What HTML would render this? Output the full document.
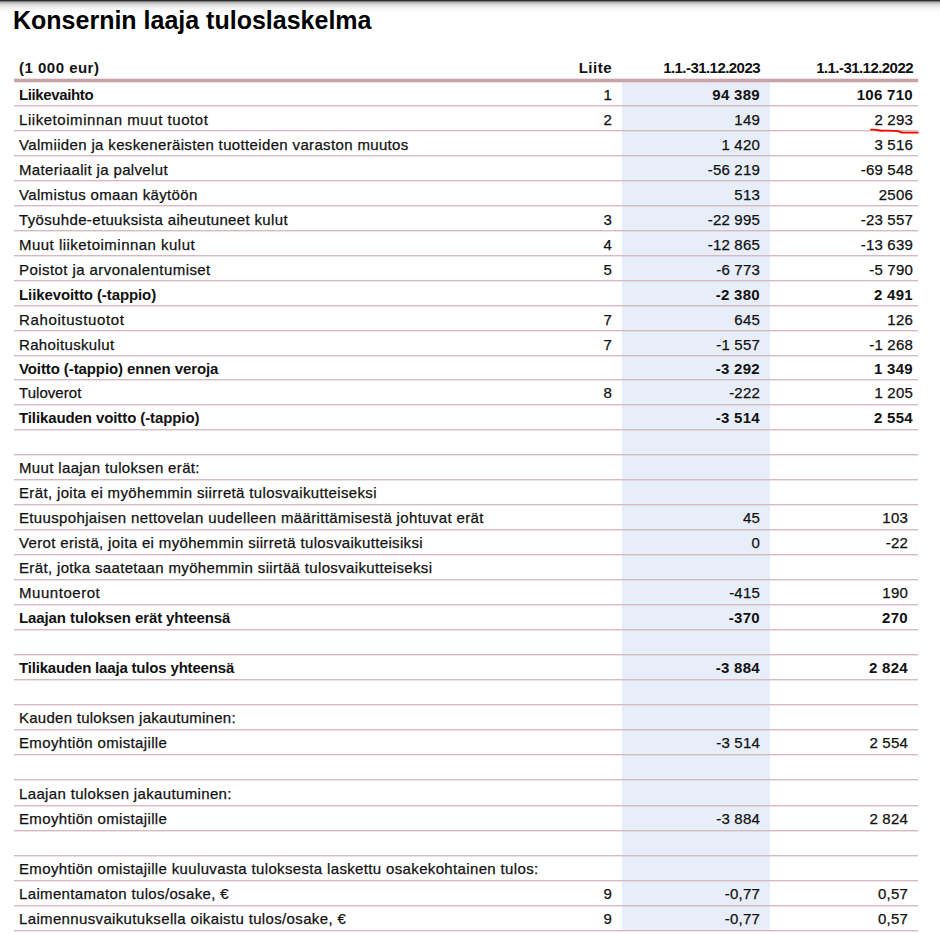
<!DOCTYPE html>
<html><head><meta charset="utf-8"><style>
*{margin:0;padding:0;box-sizing:border-box}
html,body{width:940px;height:934px;overflow:hidden;background:#fff}
body{position:relative;font-family:"Liberation Sans",sans-serif;color:#111;-webkit-text-stroke:0.25px #111}
.sh{position:absolute;left:0;top:0;width:940px;height:13px;background:linear-gradient(to bottom,#282c30 0px 1px,#7d7e80 1px 2px,#b3b3b3 2px 3px,#cbcbcb 3px 4px,#d9d9d9 4px 5px,#e3e3e3 5px 6px,#eaeaea 6px 7px,#f0f0f0 7px 8px,#f4f4f4 8px 9px,#f8f8f8 9px 10px,#fafafa 10px 11px,#fcfcfc 11px 12px,#fefefe 12px 13px)}
h1{position:absolute;left:13px;-webkit-text-stroke:0;top:4px;font-size:25px;font-weight:700;line-height:32px;white-space:nowrap;color:#000}
.blue{position:absolute;left:622px;top:82px;width:148px;height:849px;background:#e7eefa}
.thick{position:absolute;left:14px;top:79px;width:904px;height:3px;background:#c9a3a7;box-shadow:0 1px 0 rgba(201,163,167,0.3),0 -1px 0 rgba(201,163,167,0.3)}
.ln{position:absolute;left:14px;width:904px;height:1px;background:#d7babe;box-shadow:0 1px 0 rgba(215,186,190,0.4)}
.t{position:absolute;height:25px;line-height:25px;font-size:15px;white-space:nowrap}
.l{left:19px;letter-spacing:0.35px}
.r{text-align:right;letter-spacing:0.2px}
.n{width:100px}
.b{font-weight:700;letter-spacing:-0.1px;-webkit-text-stroke:0}
.r.b{letter-spacing:0.3px}
.hd{font-weight:700;-webkit-text-stroke:0}
</style></head><body>
<div class="sh"></div>
<h1>Konsernin laaja tuloslaskelma</h1>
<div class="blue"></div>
<div class="thick"></div>
<div class="t l hd" style="top:55px;letter-spacing:0.49px">(1 000 eur)</div>
<div class="t r hd n" style="top:55px;left:512px;letter-spacing:0.5px">Liite</div>
<div class="t r hd n" style="top:55px;left:660px;letter-spacing:-0.55px">1.1.-31.12.2023</div>
<div class="t r hd n" style="top:55px;left:813px;letter-spacing:-0.55px">1.1.-31.12.2022</div>
<div class="ln" style="top:105px"></div>
<div class="t l b" style="top:82px;letter-spacing:-0.380px">Liikevaihto</div>
<div class="t r n" style="top:82px;left:512px">1</div>
<div class="t r n b" style="top:82px;left:660px">94 389</div>
<div class="t r n b" style="top:82px;left:813px">106 710</div>
<div class="ln" style="top:130px"></div>
<div class="t l" style="top:107px;letter-spacing:0.550px">Liiketoiminnan muut tuotot</div>
<div class="t r n" style="top:107px;left:512px">2</div>
<div class="t r n" style="top:107px;left:660px">149</div>
<div class="t r n" style="top:107px;left:813px">2 293</div>
<div class="ln" style="top:155px"></div>
<div class="t l" style="top:132px">Valmiiden ja keskeneräisten tuotteiden varaston muutos</div>
<div class="t r n" style="top:132px;left:660px">1 420</div>
<div class="t r n" style="top:132px;left:813px">3 516</div>
<div class="ln" style="top:180px"></div>
<div class="t l" style="top:157px">Materiaalit ja palvelut</div>
<div class="t r n" style="top:157px;left:660px">-56 219</div>
<div class="t r n" style="top:157px;left:813px">-69 548</div>
<div class="ln" style="top:205px"></div>
<div class="t l" style="top:182px">Valmistus omaan käytöön</div>
<div class="t r n" style="top:182px;left:660px">513</div>
<div class="t r n" style="top:182px;left:813px">2506</div>
<div class="ln" style="top:230px"></div>
<div class="t l" style="top:207px">Työsuhde-etuuksista aiheutuneet kulut</div>
<div class="t r n" style="top:207px;left:512px">3</div>
<div class="t r n" style="top:207px;left:660px">-22 995</div>
<div class="t r n" style="top:207px;left:813px">-23 557</div>
<div class="ln" style="top:255px"></div>
<div class="t l" style="top:232px;letter-spacing:0.475px">Muut liiketoiminnan kulut</div>
<div class="t r n" style="top:232px;left:512px">4</div>
<div class="t r n" style="top:232px;left:660px">-12 865</div>
<div class="t r n" style="top:232px;left:813px">-13 639</div>
<div class="ln" style="top:280px"></div>
<div class="t l" style="top:257px;letter-spacing:0.430px">Poistot ja arvonalentumiset</div>
<div class="t r n" style="top:257px;left:512px">5</div>
<div class="t r n" style="top:257px;left:660px">-6 773</div>
<div class="t r n" style="top:257px;left:813px">-5 790</div>
<div class="ln" style="top:305px"></div>
<div class="t l b" style="top:282px">Liikevoitto (-tappio)</div>
<div class="t r n b" style="top:282px;left:660px">-2 380</div>
<div class="t r n b" style="top:282px;left:813px">2 491</div>
<div class="ln" style="top:330px"></div>
<div class="t l" style="top:307px;letter-spacing:0.630px">Rahoitustuotot</div>
<div class="t r n" style="top:307px;left:512px">7</div>
<div class="t r n" style="top:307px;left:660px">645</div>
<div class="t r n" style="top:307px;left:813px">126</div>
<div class="ln" style="top:355px"></div>
<div class="t l" style="top:332px">Rahoituskulut</div>
<div class="t r n" style="top:332px;left:512px">7</div>
<div class="t r n" style="top:332px;left:660px">-1 557</div>
<div class="t r n" style="top:332px;left:813px">-1 268</div>
<div class="ln" style="top:379px"></div>
<div class="t l b" style="top:356px">Voitto (-tappio) ennen veroja</div>
<div class="t r n b" style="top:356px;left:660px">-3 292</div>
<div class="t r n b" style="top:356px;left:813px">1 349</div>
<div class="ln" style="top:404px"></div>
<div class="t l" style="top:380px;letter-spacing:0.050px">Tuloverot</div>
<div class="t r n" style="top:380px;left:512px">8</div>
<div class="t r n" style="top:380px;left:660px">-222</div>
<div class="t r n" style="top:380px;left:813px">1 205</div>
<div class="ln" style="top:429px"></div>
<div class="t l b" style="top:405px">Tilikauden voitto (-tappio)</div>
<div class="t r n b" style="top:405px;left:660px">-3 514</div>
<div class="t r n b" style="top:405px;left:813px">2 554</div>
<div class="ln" style="top:454px"></div>
<div class="ln" style="top:479px"></div>
<div class="t l" style="top:455px">Muut laajan tuloksen erät:</div>
<div class="ln" style="top:504px"></div>
<div class="t l" style="top:480px">Erät, joita ei myöhemmin siirretä tulosvaikutteiseksi</div>
<div class="ln" style="top:529px"></div>
<div class="t l" style="top:505px">Etuuspohjaisen nettovelan uudelleen määrittämisestä johtuvat erät</div>
<div class="t r n" style="top:505px;left:660px">45</div>
<div class="t r n" style="top:505px;left:808px">103</div>
<div class="ln" style="top:554px"></div>
<div class="t l" style="top:530px">Verot eristä, joita ei myöhemmin siirretä tulosvaikutteisiksi</div>
<div class="t r n" style="top:530px;left:660px">0</div>
<div class="t r n" style="top:530px;left:808px">-22</div>
<div class="ln" style="top:579px"></div>
<div class="t l" style="top:555px">Erät, jotka saatetaan myöhemmin siirtää tulosvaikutteiseksi</div>
<div class="ln" style="top:604px"></div>
<div class="t l" style="top:580px;letter-spacing:0.540px">Muuntoerot</div>
<div class="t r n" style="top:580px;left:660px">-415</div>
<div class="t r n" style="top:580px;left:808px">190</div>
<div class="ln" style="top:629px"></div>
<div class="t l b" style="top:605px">Laajan tuloksen erät yhteensä</div>
<div class="t r n b" style="top:605px;left:660px">-370</div>
<div class="t r n b" style="top:605px;left:808px">270</div>
<div class="ln" style="top:654px"></div>
<div class="ln" style="top:679px"></div>
<div class="t l b" style="top:655px;letter-spacing:-0.180px">Tilikauden laaja tulos yhteensä</div>
<div class="t r n b" style="top:655px;left:660px">-3 884</div>
<div class="t r n b" style="top:655px;left:808px">2 824</div>
<div class="ln" style="top:704px"></div>
<div class="ln" style="top:729px"></div>
<div class="t l" style="top:705px;letter-spacing:0.260px">Kauden tuloksen jakautuminen:</div>
<div class="ln" style="top:754px"></div>
<div class="t l" style="top:730px">Emoyhtiön omistajille</div>
<div class="t r n" style="top:730px;left:660px">-3 514</div>
<div class="t r n" style="top:730px;left:808px">2 554</div>
<div class="ln" style="top:779px"></div>
<div class="ln" style="top:805px"></div>
<div class="t l" style="top:781px">Laajan tuloksen jakautuminen:</div>
<div class="ln" style="top:830px"></div>
<div class="t l" style="top:806px">Emoyhtiön omistajille</div>
<div class="t r n" style="top:806px;left:660px">-3 884</div>
<div class="t r n" style="top:806px;left:808px">2 824</div>
<div class="ln" style="top:855px"></div>
<div class="ln" style="top:880px"></div>
<div class="t l" style="top:856px">Emoyhtiön omistajille kuuluvasta tuloksesta laskettu osakekohtainen tulos:</div>
<div class="ln" style="top:905px"></div>
<div class="t l" style="top:881px">Laimentamaton tulos/osake, €</div>
<div class="t r n" style="top:881px;left:512px">9</div>
<div class="t r n" style="top:881px;left:660px">-0,77</div>
<div class="t r n" style="top:881px;left:808px">0,57</div>
<div class="ln" style="top:930px"></div>
<div class="t l" style="top:906px">Laimennusvaikutuksella oikaistu tulos/osake, €</div>
<div class="t r n" style="top:906px;left:512px">9</div>
<div class="t r n" style="top:906px;left:660px">-0,77</div>
<div class="t r n" style="top:906px;left:808px">0,57</div>
<svg style="position:absolute;left:0;top:0" width="940" height="934"><path d="M871 129.7 C873.5 129.4 876 129.5 878 130.2 C880 131 882 130.8 885 130.6 C890 130.5 895 130.6 898 131.2 C900 131.7 901.5 132.6 904 132.7 L917.8 132.7" fill="none" stroke="#f00" stroke-width="1.8" stroke-linecap="round"/></svg>
</body></html>
